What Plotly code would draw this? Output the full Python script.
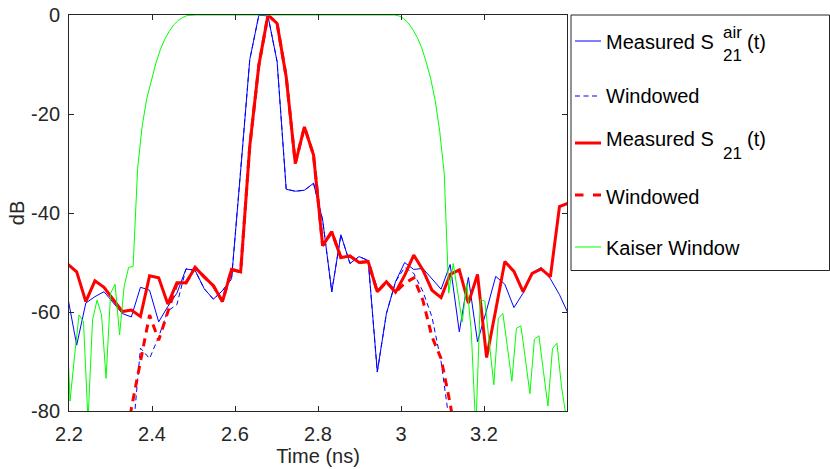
import plotly.graph_objects as go

# ---------------- data ----------------
# Time grid of the measured responses (ns)
S21_T0 = 2.1966
S21_DT = 0.02195
N_S21 = 56

measured_air = [-56.8, -66.7, -58.2, -56.9, -55.9, -58.0, -60.3, -61.0, -55.0, -55.6,
                -62.0, -58.9, -56.2, -51.3, -51.6, -55.3, -57.4, -55.7, -53.3, -31.5,
                -9.0, 0.0, -0.2, -9.4, -35.2, -35.6, -35.4, -34.0, -41.4, -55.9,
                -44.4, -50.2, -48.8, -49.6, -72.1, -60.3, -53.9, -50.0, -51.4, -51.2,
                -53.3, -55.4, -50.4, -64.0, -53.0, -66.0, -59.6, -52.8, -54.4, -59.1,
                -56.2, -52.1, -51.0, -53.3, -56.5, -60.5]

measured_s21 = [-50.3, -51.9, -57.9, -53.7, -55.0, -57.4, -59.9, -59.6, -60.9, -52.7,
                -53.1, -58.4, -54.1, -54.1, -51.0, -52.9, -54.7, -57.9, -51.4, -51.9,
                -26.5, -10.1, 0.0, -1.7, -12.5, -30.0, -22.6, -28.3, -46.6, -43.8,
                -49.0, -48.7, -50.0, -49.8, -55.9, -53.9, -56.0, -52.6, -48.5, -51.5,
                -55.6, -57.1, -52.4, -51.5, -58.2, -52.4, -69.2, -59.6, -49.8, -51.8,
                -55.9, -52.2, -51.3, -52.9, -38.7, -38.0]

# windowed responses: edges read separately, centre identical to the measured curves
win_air_left = [None] * 6 + [-100.0, -88.0, -67.3, -69.4, -65.0, -59.8, -58.5]
win_air_right = [-51.0, -52.2, -55.8, -61.0, -70.0, -83.0, -97.0] + [None] * 12
win_s21_left = [None] * 6 + [-92.0, -79.5, -70.0, -60.6, -65.7, -59.9, -54.3]
win_s21_right = [-54.2, -53.1, -57.6, -65.0, -69.4, -78.5, -90.0] + [None] * 12

windowed_air = win_air_left + measured_air[13:37] + win_air_right
windowed_s21 = win_s21_left + measured_s21[13:37] + win_s21_right

# Kaiser window (finer time grid)
KAISER_T0 = 2.2024 - 0.010865
KAISER_DT = 0.010865
kaiser = ([-55.0, -78.0, -69.0, -60.6, -62.0, -82.0, -61.6, -57.6, -60.6, -73.4,
           -56.2, -54.4, -64.6, -54.9, -51.0, -50.8, -31.0, -22.5, -17.0, -13.2,
           -9.9, -7.1, -4.9, -3.3, -2.0, -1.1, -0.5, -0.1]
          + [0.0] * 46
          + [-0.2, -0.7, -1.6, -2.9, -4.5, -6.6, -9.5, -12.9, -17.3, -23.5,
             -32.0, -56.2, -50.2, -56.0, -62.0, -54.2, -64.0, -84.0, -57.5, -57.8,
             -66.0, -74.7, -61.3, -60.3, -67.0, -74.0, -63.3, -62.8, -69.5, -76.5,
             -65.5, -64.8, -72.0, -79.0, -67.4, -66.3, -75.0, -81.0])

x_ticks = [2.2, 2.4, 2.6, 2.8, 3.0, 3.2]
x_tick_text = ["2.2", "2.4", "2.6", "2.8", "3", "3.2"]
y_ticks = [-80, -60, -40, -20, 0]
y_tick_text = ["-80", "-60", "-40", "-20", "0"]

t_s21 = [S21_T0 + i * S21_DT for i in range(N_S21)]
t_kaiser = [KAISER_T0 + k * KAISER_DT for k in range(len(kaiser))]

# ---------------- styling ----------------
FONT = "Liberation Sans, Arial, Helvetica, sans-serif"
AX = "#262626"
BLUE = "#0000FF"
RED = "#FF0000"
GREEN = "#00FF00"

W, H = 830, 469
L, R, T, B = 69, 263, 15, 58
PW, PH = W - L - R, H - T - B


def px(xp):
    return (xp - L) / PW


def py(yp):
    return (H - B - yp) / PH


fig = go.Figure()
fig.add_trace(go.Scatter(x=t_s21, y=measured_air, mode="lines",
                         line=dict(color=BLUE, width=1), showlegend=False))
fig.add_trace(go.Scatter(x=t_s21, y=windowed_air, mode="lines",
                         line=dict(color=BLUE, width=1, dash="5px,3.5px"), showlegend=False))
fig.add_trace(go.Scatter(x=t_s21, y=measured_s21, mode="lines",
                         line=dict(color=RED, width=3), showlegend=False))
fig.add_trace(go.Scatter(x=t_s21, y=windowed_s21, mode="lines",
                         line=dict(color=RED, width=3, dash="8px,6px"), showlegend=False))
fig.add_trace(go.Scatter(x=t_kaiser, y=kaiser, mode="lines",
                         line=dict(color=GREEN, width=1), showlegend=False))

axis_common = dict(showline=True, linecolor=AX, linewidth=1, mirror="ticks",
                   ticks="inside", ticklen=5, tickcolor=AX, showgrid=False,
                   zeroline=False, automargin=False,
                   tickfont=dict(family=FONT, size=20, color=AX))

fig.update_xaxes(range=[2.2, 3.4], tickvals=x_ticks, ticktext=x_tick_text,
                 ticklabelstandoff=5,
                 title=dict(text="Time (ns)", font=dict(family=FONT, size=20, color=AX), standoff=0),
                 **axis_common)
fig.update_yaxes(range=[-80, 0], tickvals=y_ticks, ticktext=y_tick_text,
                 ticklabelstandoff=4,
                 title=dict(text="dB", font=dict(family=FONT, size=20, color=AX), standoff=1),
                 **axis_common)

# ---------------- hand-drawn legend ----------------
shapes = [dict(type="rect", xref="paper", yref="paper",
               x0=px(571), x1=px(829.5), y0=py(270.5), y1=py(15),
               line=dict(color=AX, width=1), fillcolor="white", layer="above")]


def seg(x0, x1, y, color, width, dash="solid"):
    shapes.append(dict(type="line", xref="paper", yref="paper",
                       x0=px(x0), x1=px(x1), y0=py(y), y1=py(y),
                       line=dict(color=color, width=width, dash=dash), layer="above"))


seg(575, 601, 41, BLUE, 1)
seg(575, 598, 96, BLUE, 1, "5px,3.5px")
seg(575, 601, 143, RED, 3)
seg(575, 583.5, 195, RED, 3)
seg(593, 601, 195, RED, 3)
seg(575, 601, 247, GREEN, 1)

annotations = []


def label(text, x, y, size=20):
    annotations.append(dict(text=text, xref="paper", yref="paper", x=px(x), y=py(y),
                            xanchor="left", yanchor="middle", showarrow=False,
                            font=dict(family=FONT, size=size, color="#000000")))


label("Measured S", 604, 42)
label("air", 721, 32, 17)
label("21", 721, 56, 17)
label("(t)", 745, 42)
label("Windowed", 604, 96)
label("Measured S", 604, 139)
label("21", 721, 153, 17)
label("(t)", 745, 139)
label("Windowed", 604, 197)
label("Kaiser Window", 604, 248)

fig.update_layout(width=W, height=H, margin=dict(l=L, r=R, t=T, b=B),
                  plot_bgcolor="white", paper_bgcolor="white",
                  font=dict(family=FONT, size=20, color=AX),
                  shapes=shapes, annotations=annotations, showlegend=False)

fig.write_html("out.html")
